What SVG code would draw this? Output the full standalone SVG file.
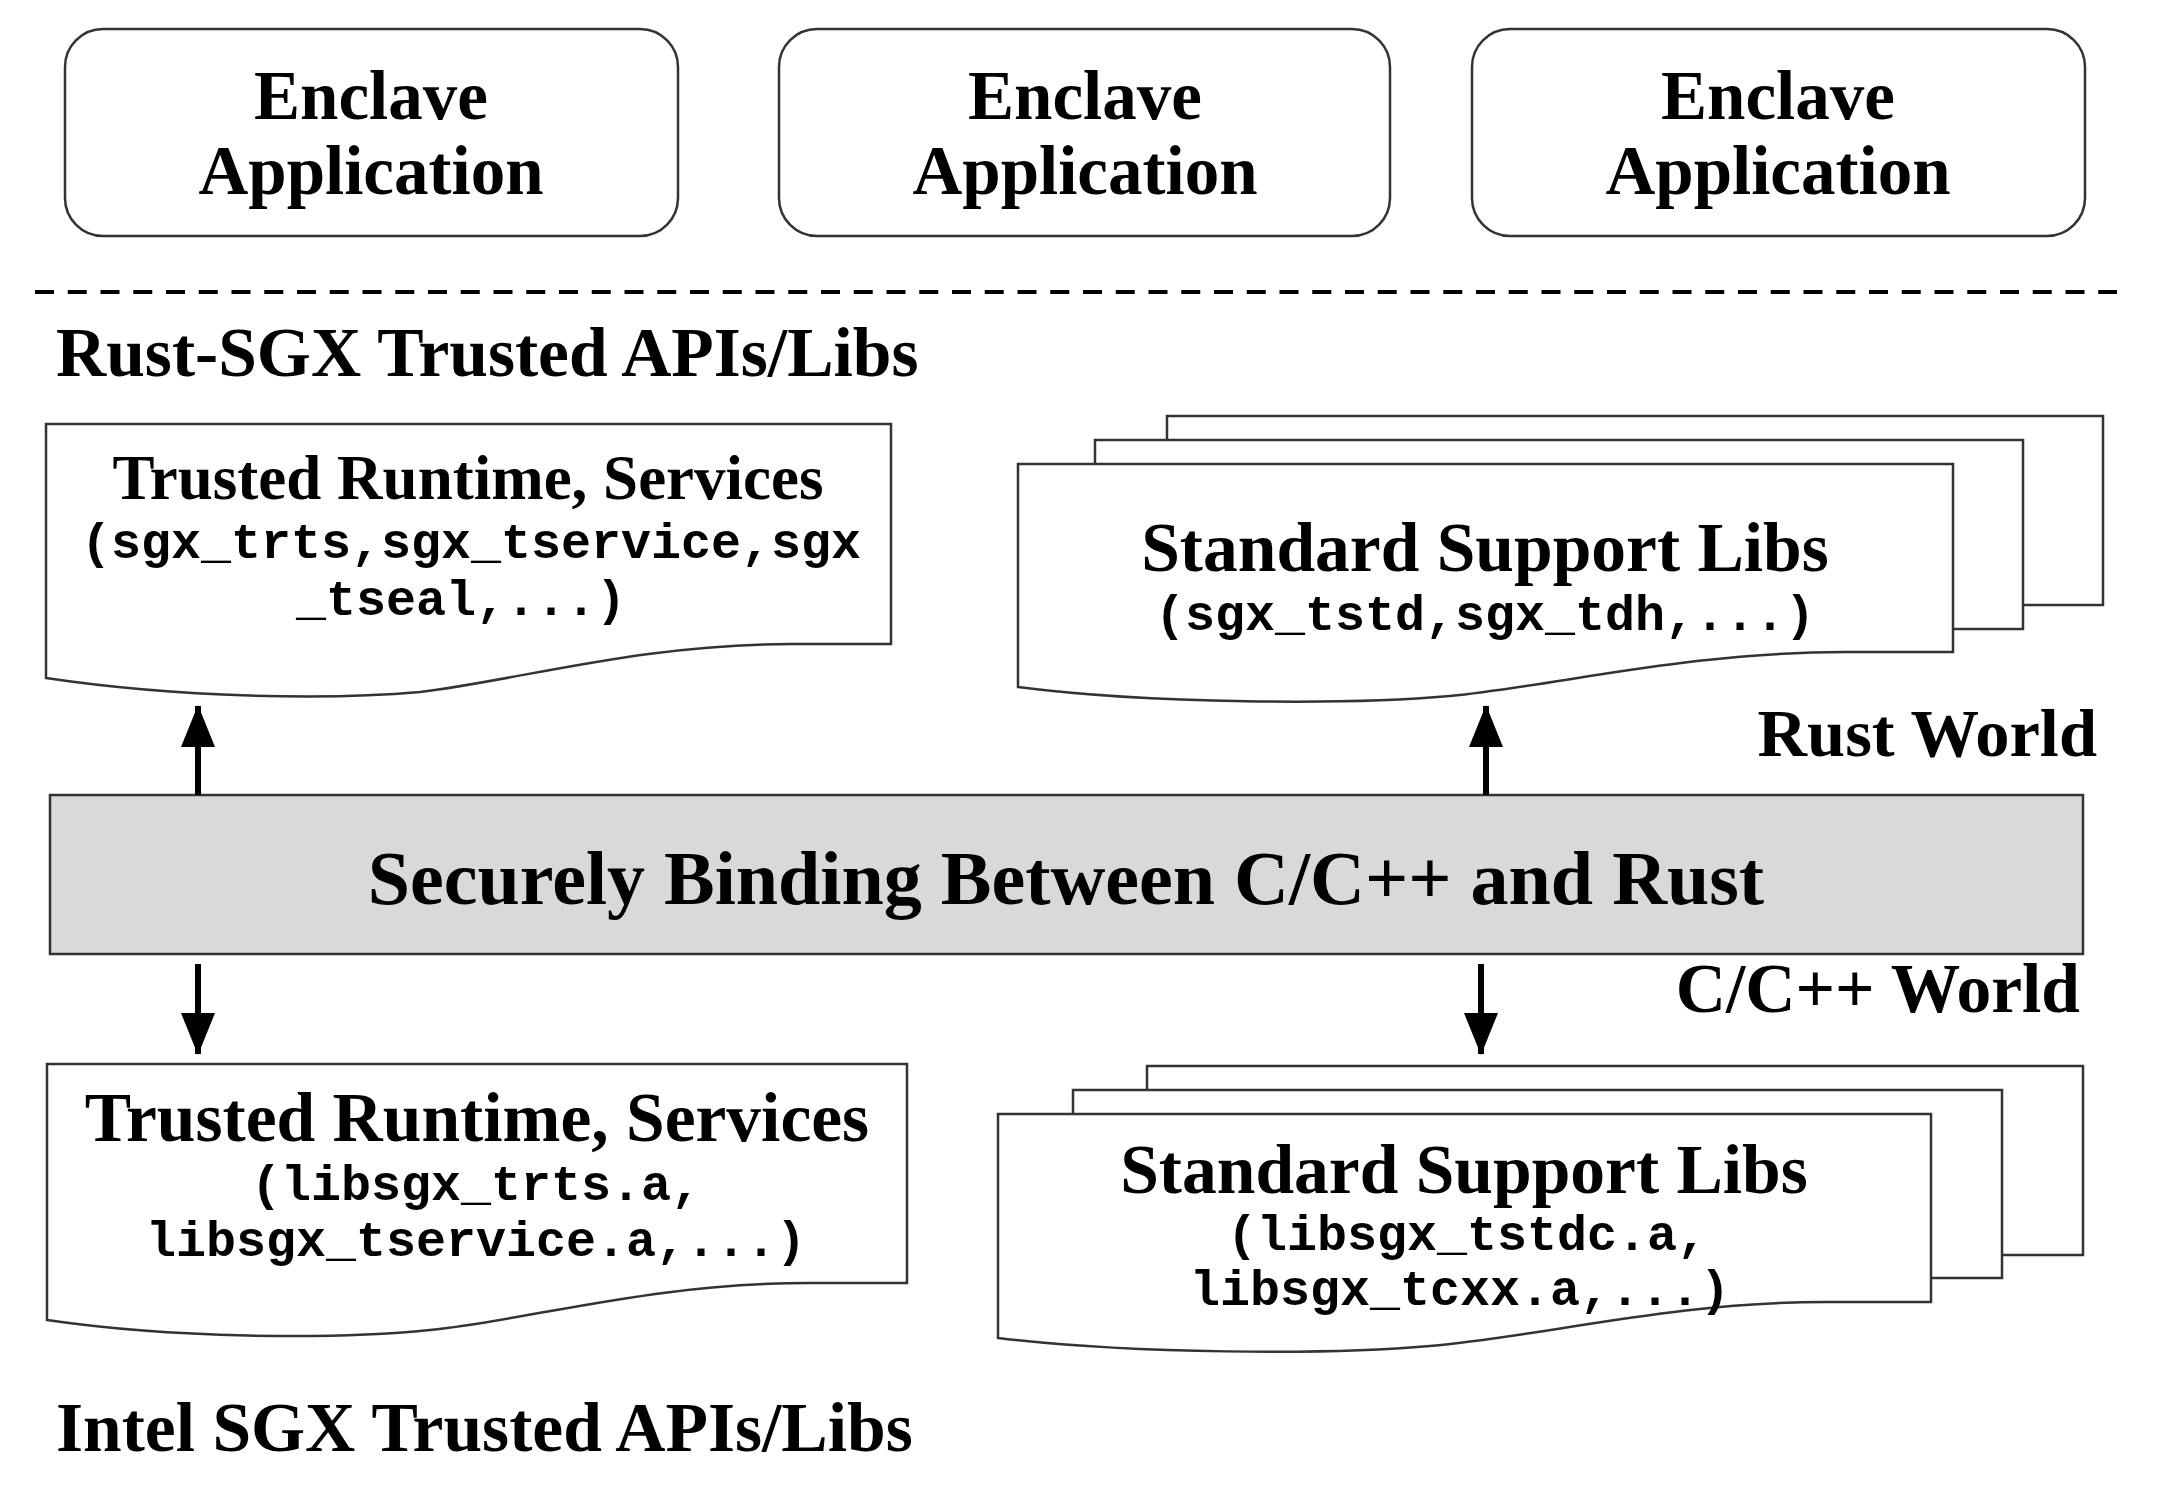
<svg xmlns="http://www.w3.org/2000/svg" width="2180" height="1488" viewBox="0 0 2180 1488">
<defs>
<style>
.box{fill:#fff;stroke:#333;stroke-width:2.5}
.doc{fill:#fff;stroke:#333;stroke-width:2.5;stroke-linejoin:miter}
.grey{fill:#d9d9d9;stroke:#333;stroke-width:2.5}
.t{font-family:"Liberation Serif","Times New Roman",serif;font-weight:bold;fill:#000}
.m{font-family:"Liberation Mono","Courier New",monospace;font-weight:bold;fill:#000;font-size:50px}
.c{text-anchor:middle}
.arr{stroke:#000;stroke-width:6;fill:none}
</style>
<marker id="ah" markerUnits="userSpaceOnUse" markerWidth="42" markerHeight="34" refX="41" refY="17" orient="auto" viewBox="0 0 42 34">
<path d="M0,0 L42,17 L0,34 Z" fill="#000"/>
</marker>
</defs>
<rect width="2180" height="1488" fill="#fff"/>

<g id="enclave1">
<rect class="box" x="65" y="29" width="613" height="207" rx="38" ry="38"/>
<text class="t c" x="371" y="119" font-size="69">Enclave</text>
<text class="t c" x="371" y="194" font-size="69">Application</text>
</g>
<g id="enclave2">
<rect class="box" x="779" y="29" width="611" height="207" rx="38" ry="38"/>
<text class="t c" x="1085" y="119" font-size="69">Enclave</text>
<text class="t c" x="1085" y="194" font-size="69">Application</text>
</g>
<g id="enclave3">
<rect class="box" x="1472" y="29" width="613" height="207" rx="38" ry="38"/>
<text class="t c" x="1778" y="119" font-size="69">Enclave</text>
<text class="t c" x="1778" y="194" font-size="69">Application</text>
</g>

<g id="separator">
<line x1="35" y1="292" x2="2117" y2="292" stroke="#000" stroke-width="4" stroke-dasharray="19 13.75"/>
</g>

<g id="label-rust-sgx">
<text class="t" x="56" y="376" font-size="69.5">Rust-SGX Trusted APIs/Libs</text>
</g>

<g id="rust-trusted-runtime">
<path class="doc" d="M46,424 H891 V644 H791 C640,644 520,680 420,692 C330,700 180,698 46,678 Z"/>
<text class="t c" x="468" y="499" font-size="63">Trusted Runtime, Services</text>
<text class="m c" x="471" y="558">(sgx_trts,sgx_tservice,sgx</text>
<text class="m c" x="461" y="615">_tseal,...)</text>
</g>

<g id="rust-std-libs">
<rect class="doc" x="1167" y="416" width="936" height="189"/>
<rect class="doc" x="1095" y="440" width="928" height="189"/>
<path class="doc" d="M1018,464 H1953 V652 H1845 C1690,652 1560,685 1450,696 C1350,705 1150,704 1018,687 Z"/>
<text class="t c" x="1485" y="571" font-size="69.5">Standard Support Libs</text>
<text class="m c" x="1485" y="630">(sgx_tstd,sgx_tdh,...)</text>
</g>

<g id="label-rust-world">
<text class="t" x="2097" y="756" font-size="68.5" text-anchor="end">Rust World</text>
</g>

<g id="binding">
<rect class="grey" x="50" y="795" width="2033" height="159"/>
<text class="t c" x="1066" y="904" font-size="76">Securely Binding Between C/C++ and Rust</text>
</g>

<g id="label-c-world">
<text class="t" x="2080" y="1012" font-size="69.5" text-anchor="end">C/C++ World</text>
</g>

<g id="sgx-trusted-runtime">
<path class="doc" d="M47,1064 H907 V1283 H810 C650,1283 530,1320 430,1330 C330,1340 170,1338 47,1320 Z"/>
<text class="t c" x="477" y="1141" font-size="69.5">Trusted Runtime, Services</text>
<text class="m c" x="476" y="1200">(libsgx_trts.a,</text>
<text class="m c" x="476" y="1256">libsgx_tservice.a,...)</text>
</g>

<g id="sgx-std-libs">
<rect class="doc" x="1147" y="1066" width="936" height="189"/>
<rect class="doc" x="1073" y="1090" width="929" height="188"/>
<path class="doc" d="M998,1114 H1931 V1302 H1825 C1670,1302 1540,1337 1430,1346 C1330,1355 1130,1354 998,1338 Z"/>
<text class="t c" x="1464" y="1193" font-size="69.5">Standard Support Libs</text>
<text class="m c" x="1467" y="1250">(libsgx_tstdc.a,</text>
<text class="m c" x="1460" y="1305">libsgx_tcxx.a,...)</text>
</g>

<g id="label-intel-sgx">
<text class="t" x="56" y="1451" font-size="69.5">Intel SGX Trusted APIs/Libs</text>
</g>

<g id="connectors">
<line class="arr" x1="198" y1="795" x2="198" y2="706" marker-end="url(#ah)"/>
<line class="arr" x1="1486" y1="795" x2="1486" y2="706" marker-end="url(#ah)"/>
<line class="arr" x1="198" y1="964" x2="198" y2="1054" marker-end="url(#ah)"/>
<line class="arr" x1="1481" y1="964" x2="1481" y2="1054" marker-end="url(#ah)"/>
</g>
</svg>
